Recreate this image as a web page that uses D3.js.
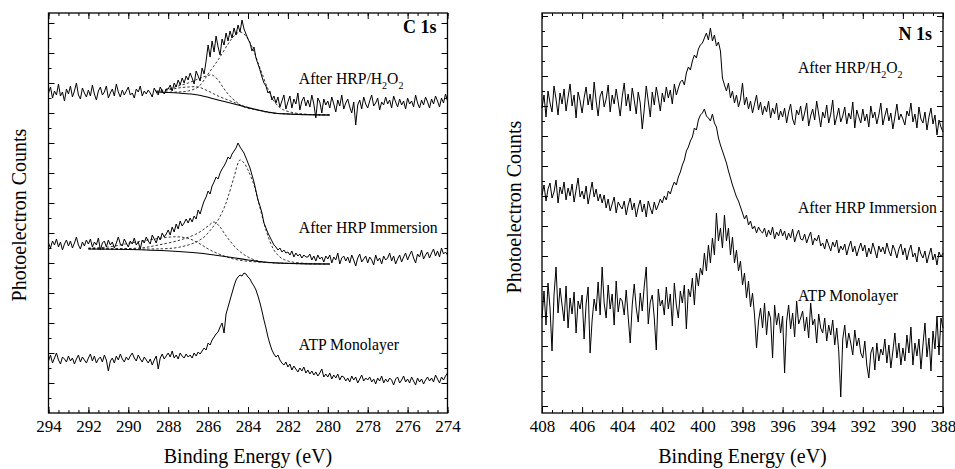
<!DOCTYPE html>
<html>
  <head>
    <title>C 1s / N 1s spectra</title>
    <script type="text/javascript" src="https://d3js.org/d3.v7.min.js"></script>
    <style>
      body { margin: 0; background: #fff; }
      .trace { fill: none; stroke: #000; stroke-width: 1; }
      .comp { fill: none; stroke: #000; stroke-width: 0.8; stroke-dasharray: 2.5,2; }
      .bg { fill: none; stroke: #000; stroke-width: 1.1; }
      .frame { fill: none; stroke: #000; stroke-width: 1.3; }
      .tick line { stroke: #000; stroke-width: 1; }
    </style>
  </head>

  <body>
    <svg width="955" height="469"></svg>

    <script type="text/javascript">
      // tick labels of the two energy axes
      var cTickLabels = [294, 292, 290, 288, 286, 284, 282, 280, 278, 276, 274];
      var nTickLabels = [408, 406, 404, 402, 400, 398, 396, 394, 392, 390, 388];
      var stepEV = 0.1; // spectra sampled every 0.1 eV, starting at the left edge

      // C 1s spectra, 294 -> 274 eV
      var cAfterH2O2 = [
        320,326,315,322,318,329,317,321,312,324, 319,327,316,322,330,318,314,325,320,316,
        323,317,328,319,313,322,326,318,321,327, 315,320,324,317,329,321,316,323,318,322,
        326,318,320,315,324,321,327,317,322,319, 323,320,316,325,321,318,326,322,319,324,
        324,328,322,330,326,333,328,335,330,337, 333,340,335,329,342,337,332,345,339,352,
        368,356,372,361,377,366,358,374,368,380, 372,382,375,385,378,388,381,393,384,379,
        374,370,362,366,355,349,343,336,330,327, 320,322,313,317,310,316,306,312,318,304,
        311,317,305,314,309,320,303,312,316,307, 313,306,318,309,295,315,311,300,314,308,
        312,305,316,309,301,313,307,318,304,310, 314,306,300,311,288,308,313,304,316,309,
        305,312,318,307,310,315,303,311,308,316, 309,313,305,317,311,306,314,308,312,304,
        315,309,312,306,318,310,305,313,308,316, 311,305,314,309,317,312,306,315,310,319,
        312];
      var cAfterHRP = [
        170,165,172,168,174,166,171,163,169,173, 167,172,165,170,176,168,164,171,167,173,
        169,174,166,171,168,175,163,170,172,166, 173,168,171,165,170,176,169,167,174,170,
        166,172,169,175,168,171,164,173,170,176, 172,169,178,174,170,177,173,180,176,179,
        183,178,186,181,189,184,192,187,190,194, 190,195,191,197,194,203,199,206,212,216,
        222,219,227,231,236,234,240,244,247,251, 256,254,259,262,265,270,266,263,260,255,
        250,245,238,231,222,213,207,200,190,185, 180,176,172,168,166,163,165,161,163,160,
        161,158,162,156,160,157,159,155,158,156, 156,159,153,157,152,158,154,156,151,157,
        154,158,150,156,153,160,149,155,157,152, 156,150,158,153,147,155,159,151,154,157,
        150,156,153,148,158,152,155,149,157,153, 155,160,152,157,149,154,158,151,156,160,
        153,158,162,155,150,159,156,163,154,158, 161,155,160,164,157,162,156,165,159,161,
        158];
      var cATP = [
        52,58,50,55,60,53,49,56,54,51, 57,52,55,49,54,58,51,56,53,50,
        55,59,52,57,50,54,56,51,58,53, 42,52,55,50,57,53,59,54,51,56,
        53,57,60,55,52,58,54,51,56,53, 50,54,48,53,57,44,55,59,54,57,
        60,56,62,55,58,54,60,57,55,59, 56,58,55,60,57,61,59,62,65,63,
        70,68,73,76,79,81,86,90,80,99, 106,113,120,127,133,136,138,137,140,139,
        136,134,130,127,123,117,110,102,93,85, 76,69,63,59,56,58,53,50,48,51,
        46,49,43,47,44,41,45,42,46,40, 43,39,42,38,41,37,40,44,36,39,
        36,40,34,38,35,39,33,37,36,32, 35,31,37,33,36,30,34,38,32,35,
        33,36,31,34,29,35,32,37,30,34, 31,35,33,28,34,36,30,33,37,31,
        34,30,36,32,28,35,31,34,29,33, 36,32,35,31,38,34,30,36,33,37,
        40];

      // C 1s curve fits [eV, counts]
      var cH2O2Bg = [[288.6,321],[287.5,320],[286.5,318],[285.5,313],[284.5,308],[283.5,303],[282.7,300],[281.5,298.5],[279.9,298]];
      var cH2O2Fit1 = [[288.6,321],[287.5,321],[287,322],[286.5,326],[286.2,333],[286,339],[285.5,353],[285,369],[284.7,377],[284.4,381],[284.1,377],[283.8,366],[283.4,345],[283,324],[282.7,312],[282.3,304],[281.5,299.5],[279.9,298]];
      var cH2O2Fit2 = [[288.6,322],[288,324],[287.5,327],[287,330],[286.5,334],[286.1,337],[285.8,338],[285.5,333],[285.3,327],[285,319],[284.7,313],[284.2,306],[283.5,303],[283,301],[282.5,299.5],[281,298.5],[279.9,298]];
      var cH2O2Fit3 = [[288.6,321],[288,323],[287.5,325],[287,326],[286.5,326],[286,322],[285.5,317],[285,313],[284.5,309],[284,305.5],[283.5,303],[283,300.5],[282.5,299.5],[281,298.5],[279.9,298]];
      var cHRPBg = [[292,164],[290,163.5],[287.9,162],[286.5,160],[285.7,158],[284.8,155.5],[284,153],[283.2,151],[282.5,150],[281,149],[279.9,149]];
      var cHRPFit1 = [[292,164],[289,164],[287.7,165],[287,168],[286.6,171],[286.2,176],[285.8,185],[285.5,193],[285.2,205],[285,216],[284.7,236],[284.4,253],[284.2,250],[284,243],[283.7,228],[283.5,213],[283.2,190],[283,177],[282.7,163],[282.4,156],[282,152],[281,149.5],[279.9,149]];
      var cHRPFit2 = [[292,164.5],[289.4,165],[288.5,168],[287.4,173],[286.5,180],[286,187],[285.7,191],[285.4,186],[285.2,180],[284.9,172],[284.5,163],[284,156],[283.5,152],[283,150.5],[282,149.5],[279.9,149]];
      var cHRPFit3 = [[292,165],[291,166],[289.9,170],[289,173],[287.9,176],[287.4,176],[286.9,174],[286.4,169],[285.9,163],[285.2,157],[284.5,153],[283.5,151],[282.5,150],[279.9,149]];

      // N 1s spectra, 408 -> 388 eV
      var nAfterH2O2 = [
        305,318,296,322,310,301,327,314,298,320, 309,324,302,316,329,307,318,295,321,312,
        300,315,326,308,319,303,331,312,297,317, 322,306,314,328,301,318,309,324,311,297,
        316,330,307,319,302,325,313,299,321,310, 284,304,327,312,296,321,308,326,315,302,
        320,311,326,315,323,309,329,318,325,331, 333,328,340,346,343,352,358,355,364,368,
        370,375,380,373,385,372,378,367,371,362, 335,328,322,330,315,322,310,318,306,314,
        330,308,316,304,312,300,309,318,303,311, 298,307,301,312,295,305,299,310,293,302,
        296,305,290,301,309,294,288,303,298,307, 292,300,310,287,297,304,293,312,299,286,
        301,295,308,290,299,313,288,296,305,291, 297,306,289,300,294,311,285,303,296,290,
        304,292,299,286,307,295,301,289,298,310, 288,297,305,292,300,284,296,309,293,299,
        294,288,302,297,310,291,299,285,306,294, 290,301,283,296,305,289,298,278,293,286,
        281];
      var nAfterHRP = [
        218,228,212,224,230,215,221,233,210,226, 219,231,213,225,217,229,211,223,235,216,
        222,214,227,209,220,231,216,224,212,219, 210,218,205,214,202,209,216,200,211,207,
        204,212,198,208,215,203,210,196,206,213, 201,209,196,212,205,199,211,203,208,214,
        210,217,213,222,219,226,231,228,236,241, 248,253,262,266,272,276,285,283,293,298,
        300,304,297,295,292,299,290,286,275,268, 262,256,250,242,235,228,222,216,212,206,
        200,194,198,188,192,184,187,180,186,182, 180,185,176,183,178,186,174,181,177,184,
        177,182,173,180,175,184,171,178,183,174, 173,179,170,176,181,168,175,172,178,167,
        170,164,174,168,162,171,166,173,160,167, 163,169,158,166,172,161,167,157,164,170,
        162,168,156,165,159,170,163,155,167,161, 166,159,170,162,157,168,163,155,164,169,
        158,165,153,162,168,156,160,151,166,159, 155,162,150,158,165,153,159,148,161,156,
        160];
      var nATP = [
        95,122,88,130,105,62,118,146,100,125, 108,92,127,85,115,99,121,80,112,104,
        118,74,109,126,60,93,114,102,131,98, 146,110,95,128,104,119,88,132,101,115,
        112,98,123,96,70,108,129,105,91,120, 102,127,146,89,111,118,95,63,124,107,
        113,98,126,104,119,87,130,108,95,122, 110,128,84,124,116,135,108,140,127,145,
        138,160,142,168,150,175,158,200,172,185, 165,198,172,185,158,176,150,163,142,152,
        128,140,115,132,106,120,98,65,92,105, 85,110,78,102,95,55,108,88,100,80,
        97,40,92,108,84,100,76,112,89,95, 102,82,96,75,110,88,94,70,99,85,
        80,95,72,88,78,93,68,85,62,16, 74,88,65,80,70,58,83,67,75,60,
        55,72,48,35,60,66,43,70,52,64, 58,74,50,68,45,62,80,55,70,48,
        65,52,78,60,86,48,70,57,74,44, 68,90,56,75,42,82,64,97,58,95,
        85];

      var svg = d3.select('svg');
      var y = d3.scaleLinear().domain([0, 400]).range([413, 13]);
      var serif = '"Liberation Serif"';

      function sampled(start, vals) {
        return vals.map(function(v, i) { return [start - i * stepEV, v]; });
      }

      function label(g, size) {
        return g.append('text').style('font-family', serif).style('font-size', size + 'px').style('fill', '#000');
      }

      function drawPanel(p) {
        var x = d3.scaleLinear().domain([p.ticks[0], p.ticks[p.ticks.length - 1]]).range(p.range);
        var g = svg.append('g');
        var raw = d3.line().x(function(d) { return x(d[0]); }).y(function(d) { return y(d[1]); });
        var smooth = d3.line().curve(d3.curveCatmullRom)
                       .x(function(d) { return x(d[0]); }).y(function(d) { return y(d[1]); });

        var lo = d3.min(p.ticks), hi = d3.max(p.ticks);
        var minor = d3.range(lo, hi + 0.01, 0.5);

        // x ticks, bottom and top, pointing inwards
        g.append('g').attr('transform', 'translate(0,' + y(0) + ')')
         .call(d3.axisBottom(x).tickValues(minor).tickSize(-3).tickSizeOuter(0).tickFormat(''));
        var bx = g.append('g').attr('transform', 'translate(0,' + y(0) + ')')
         .call(d3.axisBottom(x).tickValues(p.ticks).tickSize(-6).tickSizeOuter(0).tickPadding(7).tickFormat(d3.format('d')));
        bx.selectAll('text').style('font-family', serif).style('font-size', '17px').style('fill', '#000');
        g.append('g').attr('transform', 'translate(0,' + y(400) + ')')
         .call(d3.axisTop(x).tickValues(minor).tickSize(-3).tickSizeOuter(0).tickFormat(''));
        g.append('g').attr('transform', 'translate(0,' + y(400) + ')')
         .call(d3.axisTop(x).tickValues(p.ticks).tickSize(-6).tickSizeOuter(0).tickFormat(''));

        // y ticks, alternating long/short, both sides
        var yt = d3.range(p.yOff, 400, 15);
        var yLong = yt.filter(function(d, i) { return i % 2 === p.longIdx; });
        var yShort = yt.filter(function(d, i) { return i % 2 !== p.longIdx; });
        [[yLong, -6], [yShort, -3]].forEach(function(s) {
          g.append('g').attr('transform', 'translate(' + p.range[0] + ',0)')
           .call(d3.axisLeft(y).tickValues(s[0]).tickSize(s[1]).tickSizeOuter(0).tickFormat(''));
          g.append('g').attr('transform', 'translate(' + p.range[1] + ',0)')
           .call(d3.axisRight(y).tickValues(s[0]).tickSize(s[1]).tickSizeOuter(0).tickFormat(''));
        });
        g.selectAll('.domain').remove();

        g.append('rect').attr('class', 'frame')
         .attr('x', p.range[0]).attr('y', y(400))
         .attr('width', p.range[1] - p.range[0]).attr('height', y(0) - y(400));

        p.spectra.forEach(function(s) {
          g.append('path').attr('class', 'trace').attr('d', raw(sampled(p.ticks[0], s)));
        });
        p.fits.forEach(function(f) {
          g.append('path').attr('class', 'comp').attr('d', smooth(f));
        });
        p.bgs.forEach(function(b) {
          g.append('path').attr('class', 'bg').attr('d', smooth(b));
        });

        // trace labels
        p.labels.forEach(function(l) {
          var t = label(g, 15.7).attr('x', x(p.labelAt)).attr('y', y(l.v));
          if (l.sub) {
            t.append('tspan').text('After HRP/H');
            t.append('tspan').text('2').style('font-size', '10px').attr('dy', 5);
            t.append('tspan').text('O').attr('dy', -5);
            t.append('tspan').text('2').style('font-size', '10px').attr('dy', 5);
          } else {
            t.text(l.text);
          }
        });

        label(g, 18).attr('x', x(p.titleAt[0])).attr('y', y(p.titleAt[1]))
         .attr('text-anchor', 'end').style('font-weight', 'bold')
         .text(p.title);

        label(g, 20).attr('x', (p.range[0] + p.range[1]) / 2).attr('y', 463)
         .attr('text-anchor', 'middle')
         .text('Binding Energy (eV)');

        label(g, 20).attr('transform', 'translate(' + p.yLabel[0] + ',' + p.yLabel[1] + ') rotate(-90)')
         .attr('text-anchor', 'middle')
         .text('Photoelectron Counts');
      }

      drawPanel({
        ticks: cTickLabels, range: [48.5, 447.5], yOff: 15, longIdx: 1,
        spectra: [cAfterH2O2, cAfterHRP, cATP],
        fits: [cH2O2Fit1, cH2O2Fit2, cH2O2Fit3, cHRPFit1, cHRPFit2, cHRPFit3],
        bgs: [cH2O2Bg, cHRPBg],
        labelAt: 281.45,
        labels: [{ v: 329, sub: true }, { v: 180, text: 'After HRP Immersion' }, { v: 63, text: 'ATP Monolayer' }],
        title: 'C 1s', titleAt: [274.55, 380],
        yLabel: [26, 215]
      });

      drawPanel({
        ticks: nTickLabels, range: [542, 943], yOff: 7, longIdx: 0,
        spectra: [nAfterH2O2, nAfterHRP, nATP],
        fits: [], bgs: [],
        labelAt: 395.23,
        labels: [{ v: 340, sub: true }, { v: 200, text: 'After HRP Immersion' }, { v: 112, text: 'ATP Monolayer' }],
        title: 'N 1s', titleAt: [388.55, 373],
        yLabel: [521, 207]
      });
    </script>
  </body>
</html>
